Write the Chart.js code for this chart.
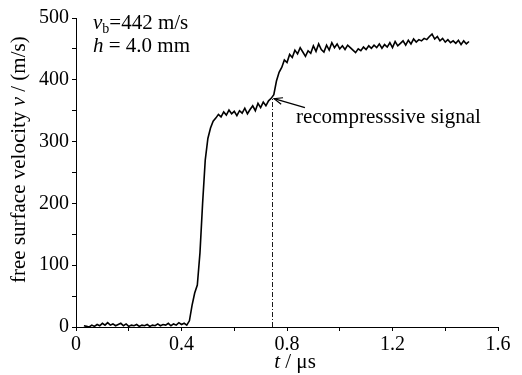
<!DOCTYPE html>
<html>
<head>
<meta charset="utf-8">
<script src="https://cdn.jsdelivr.net/npm/chart.js@4.4.1/dist/chart.umd.min.js"></script>
<style>
html,body{margin:0;padding:0;background:#fff;}
#wrap{width:522px;height:375px;position:relative;}
</style>
</head>
<body>
<div id="wrap"><canvas id="c" width="522" height="375"></canvas></div>
<script>
// time (µs)
const times = [
0.03,0.04,0.05,0.06,0.07,0.08,0.09,0.10,0.11,0.12,
0.13,0.14,0.15,0.16,0.17,0.18,0.19,0.20,0.21,0.22,
0.23,0.24,0.25,0.26,0.27,0.28,0.29,0.30,0.31,0.32,
0.33,0.34,0.35,0.36,0.37,0.38,0.39,0.40,0.41,0.42,
0.43,0.44,0.45,0.46,0.47,0.48,0.49,0.50,0.51,0.52,
0.53,0.54,0.55,0.56,0.57,0.58,0.59,0.60,0.61,0.62,
0.63,0.64,0.65,0.66,0.67,0.68,0.69,0.70,0.71,0.72,
0.73,0.74,0.75,0.76,0.77,0.78,0.79,0.80,0.81,0.82,
0.83,0.84,0.85,0.86,0.87,0.88,0.89,0.90,0.91,0.92,
0.93,0.94,0.95,0.96,0.97,0.98,0.99,1.00,1.01,1.02,
1.03,1.04,1.05,1.06,1.07,1.08,1.09,1.10,1.11,1.12,
1.13,1.14,1.15,1.16,1.17,1.18,1.19,1.20,1.21,1.22,
1.23,1.24,1.25,1.26,1.27,1.28,1.29,1.30,1.31,1.32,
1.33,1.34,1.35,1.36,1.37,1.38,1.39,1.40,1.41,1.42,
1.43,1.44,1.45,1.46,1.47,1.48,1.49
];
// free surface velocity (m/s)
const velocity = [
2,1,0,3,1,4,2,6,3,7,
3,5,2,4,6,2,5,1,3,2,
4,1,3,2,4,1,3,2,5,2,
4,3,6,2,5,3,7,4,6,3,
10,35,55,68,120,200,270,305,322,333,
338,344,340,348,343,351,345,349,342,350,
346,354,345,352,358,350,362,355,364,358,
366,370,376,398,412,420,432,428,441,436,
448,442,452,445,438,447,443,455,446,458,
449,445,456,448,460,452,458,450,455,449,
456,452,448,444,450,447,453,449,455,451,
456,452,458,451,457,453,460,452,462,455,
459,463,456,464,458,466,461,465,463,467,
465,470,474,466,470,463,467,461,465,460,
463,459,464,457,463,458,462
];
// axis ticks
const xTickLabels = ['0','0.4','0.8','1.2','1.6'];
const yTickLabels = ['0','100','200','300','400','500'];
// annotation values
const signalTime = [0.744];
const signalVelocity = [370];
const arrowTail = [0.868, 355];
const arrowHead = [0.751, 369.5];

const FONT = '"Liberation Serif", "Times New Roman", serif';
const points = times.map((t,i)=>({x:t, y:velocity[i]}));

const overlay = {
  id:'overlay',
  afterDraw(chart){
    const ctx = chart.ctx;
    const xs = chart.scales.x, ys = chart.scales.y;
    ctx.save();
    ctx.fillStyle = '#000';
    ctx.strokeStyle = '#000';
    // dash-dot line
    ctx.lineWidth = 0.9;
    ctx.setLineDash([5,2,1,2]);
    const vx = Math.round(xs.getPixelForValue(signalTime[0]))+0.5;
    ctx.beginPath();
    ctx.moveTo(vx, ys.getPixelForValue(0));
    ctx.lineTo(vx, ys.getPixelForValue(signalVelocity[0]));
    ctx.stroke();
    ctx.setLineDash([]);
    // arrow
    const tx = xs.getPixelForValue(arrowTail[0]), ty = ys.getPixelForValue(arrowTail[1]);
    const hx = xs.getPixelForValue(arrowHead[0]), hy = ys.getPixelForValue(arrowHead[1]);
    ctx.lineWidth = 1.2;
    ctx.beginPath(); ctx.moveTo(tx,ty); ctx.lineTo(hx,hy); ctx.stroke();
    const ang = Math.atan2(hy-ty, hx-tx);
    const L = 9, a = 0.38;
    ctx.beginPath();
    ctx.moveTo(hx - L*Math.cos(ang-a), hy - L*Math.sin(ang-a));
    ctx.lineTo(hx, hy);
    ctx.lineTo(hx - L*Math.cos(ang+a), hy - L*Math.sin(ang+a));
    ctx.stroke();
    // label
    ctx.textBaseline = 'alphabetic';
    ctx.textAlign = 'left';
    ctx.font = '21px ' + FONT;
    ctx.fillText('recompresssive signal', xs.getPixelForValue(0.834), ys.getPixelForValue(330.6));

    // top-left annotation
    const drawSeq = (segs, x, y) => {
      for (const s of segs){
        ctx.font = s.f;
        ctx.fillText(s.t, x, y + (s.dy||0));
        x += ctx.measureText(s.t).width;
      }
      return x;
    };
    const ax = xs.getPixelForValue(0.0645);
    drawSeq([
      {t:'v', f:'italic 21px '+FONT},
      {t:'b', f:'14px '+FONT, dy:4},
      {t:'=442 m/s', f:'21px '+FONT}
    ], ax, ys.getPixelForValue(483));
    drawSeq([
      {t:'h', f:'italic 21px '+FONT},
      {t:' = 4.0 mm', f:'21px '+FONT}
    ], ax, ys.getPixelForValue(445.7));

    // x title
    const xsegs = [{t:'t', f:'italic 21px '+FONT},{t:' / μs', f:'21px '+FONT}];
    let w = 0; for (const s of xsegs){ctx.font=s.f; w+=ctx.measureText(s.t).width;}
    drawSeq(xsegs, 295 - w/2, 368);

    // y title
    ctx.translate(25, 283);
    ctx.rotate(-Math.PI/2);
    drawSeq([
      {t:'free surface velocity ', f:'21px '+FONT},
      {t:'v', f:'italic 21px '+FONT},
      {t:' / (m/s)', f:'21px '+FONT}
    ], 0, 0);
    ctx.restore();
  }
};

new Chart(document.getElementById('c'), {
  type:'line',
  data:{datasets:[{
    data: points,
    borderColor:'#000',
    borderWidth:1.6,
    pointRadius:0,
    tension:0,
    fill:false
  }]},
  options:{
    responsive:false,
    animation:false,
    events:[],
    layout:{padding:{top:18, right:24, bottom:0, left:0}},
    plugins:{legend:{display:false}, tooltip:{enabled:false}},
    scales:{
      x:{
        type:'linear', min:0, max:1.6,
        border:{display:true, color:'#000', width:1},
        grid:{display:true, drawOnChartArea:false, drawTicks:true, tickLength:4, color:'#000'},
        ticks:{
          stepSize:0.2, autoSkip:false, maxRotation:0, padding:2,
          color:'#000', font:{family:FONT, size:20},
          callback:(v)=>{
            const k = Math.round(v*10);
            return (k % 4 === 0) ? xTickLabels[k/4] : '';
          }
        },
        afterFit:(s)=>{ s.height = 48; }
      },
      y:{
        type:'linear', min:0, max:500,
        border:{display:true, color:'#000', width:1},
        grid:{display:true, drawOnChartArea:false, drawTicks:true, tickLength:4, color:'#000'},
        ticks:{
          stepSize:50, autoSkip:false, padding:3,
          color:'#000', font:{family:FONT, size:20},
          callback:(v)=>{
            const k = Math.round(v);
            return (k % 100 === 0) ? yTickLabels[k/100] : '';
          }
        },
        afterFit:(s)=>{ s.width = 76; }
      }
    }
  },
  plugins:[overlay]
});
</script>
</body>
</html>
